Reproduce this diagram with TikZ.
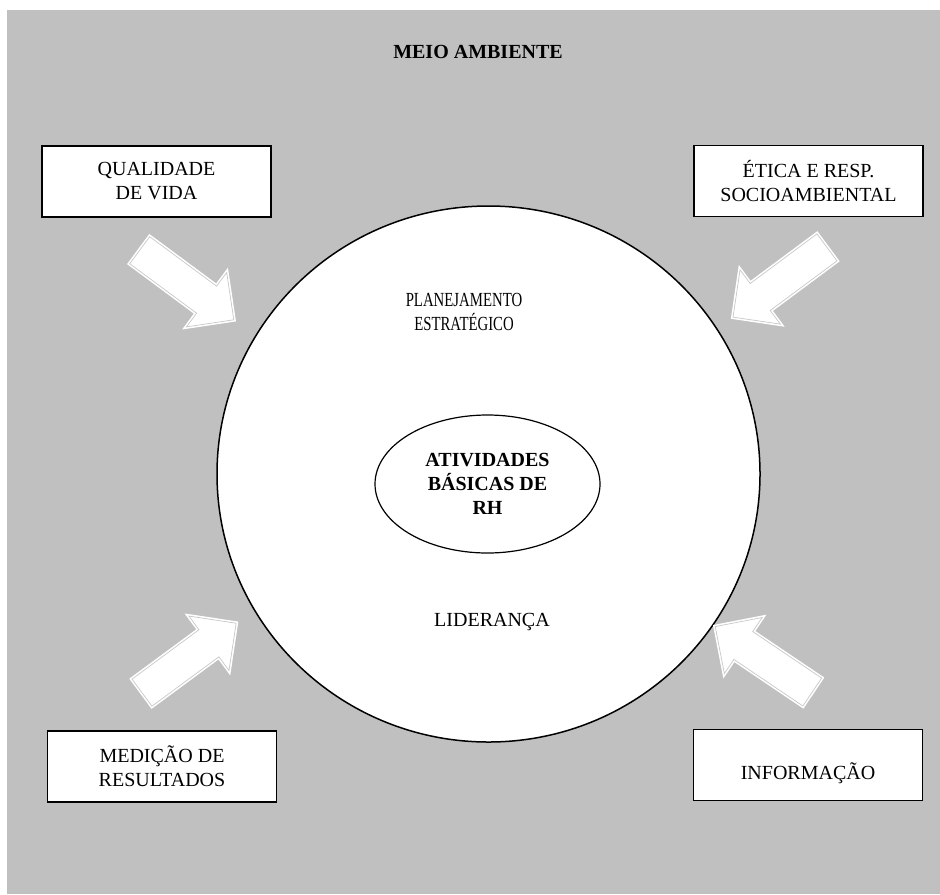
\documentclass[tikz,border=0pt]{standalone}
\usepackage{fontspec}
\setmainfont{Liberation Serif}
\usepackage{xcolor}
\usepackage{tikz}
\usetikzlibrary{shapes.geometric, shapes.arrows, positioning}

\definecolor{cinzafundo}{RGB}{192,192,192}
\definecolor{cinzaseta}{RGB}{200,200,200}

\begin{document}
\begin{tikzpicture}[x=0.5pt, y=-0.5pt,
    caixa/.style={draw, line width=0.9pt, fill=white, minimum width=114.5pt,
        minimum height=35.5pt, align=center, inner sep=0pt},
    seta/.style={single arrow, fill=white, draw=white, double=cinzaseta,
        double distance=0.35pt, line width=0.8pt, minimum height=58.5pt,
        minimum width=33pt, inner sep=8pt, single arrow head extend=8.5pt}]

    % =================================================================
    % 1. FUNDO CINZA (MEIO AMBIENTE)
    % =================================================================
    \useasboundingbox (0,0) rectangle (940,894);
    \fill[cinzafundo] (7,10) rectangle (940,894);
    \node[font=\bfseries] (meio) at (478,52) {MEIO AMBIENTE};

    % =================================================================
    % 2. ELIPSES: ORGANIZACAO E ATIVIDADES BASICAS
    % =================================================================
    \node[ellipse, draw, line width=0.75pt, fill=white, inner sep=0pt,
        minimum width=271.5pt, minimum height=268pt] (org) at (488.5,474) {};
    \node[ellipse, draw, line width=0.6pt, fill=white, inner sep=0pt,
        minimum width=112.5pt, minimum height=69pt, align=center,
        font=\bfseries] (rh) at (487.5,484) {ATIVIDADES\\BÁSICAS DE\\RH};

    % Textos dentro da elipse maior
    \node[align=center, xscale=0.74] (plan) at (464,311.5) {PLANEJAMENTO\\ESTRATÉGICO};
    \node (lid) at (492,622) {LIDERANÇA};

    % =================================================================
    % 3. SETAS EM BLOCO (FATORES EXTERNOS -> ORGANIZACAO)
    % =================================================================
    \node[seta, rotate=-36.5] (setaQV) at (180,280) {};
    \node[seta, rotate=216.6] (setaER) at (786.75,277.25) {};
    \node[seta, rotate=36.4] (setaMR) at (182.3,662.9) {};
    \node[seta, rotate=146] (setaIN) at (770.7,664) {};

    % =================================================================
    % 4. CAIXAS DOS FATORES
    % =================================================================
    \node[caixa] (qv) at (156.5,181.5) {QUALIDADE\\DE VIDA};
    \node[caixa] (er) at (808.5,181) {ÉTICA E RESP.\\SOCIOAMBIENTAL};
    \node[caixa] (mr) at (162,766.3) {MEDIÇÃO DE\\RESULTADOS};
    \node[caixa, text height=16pt, text depth=2pt] (inf) at (808,765) {INFORMAÇÃO};

\end{tikzpicture}
\end{document}
